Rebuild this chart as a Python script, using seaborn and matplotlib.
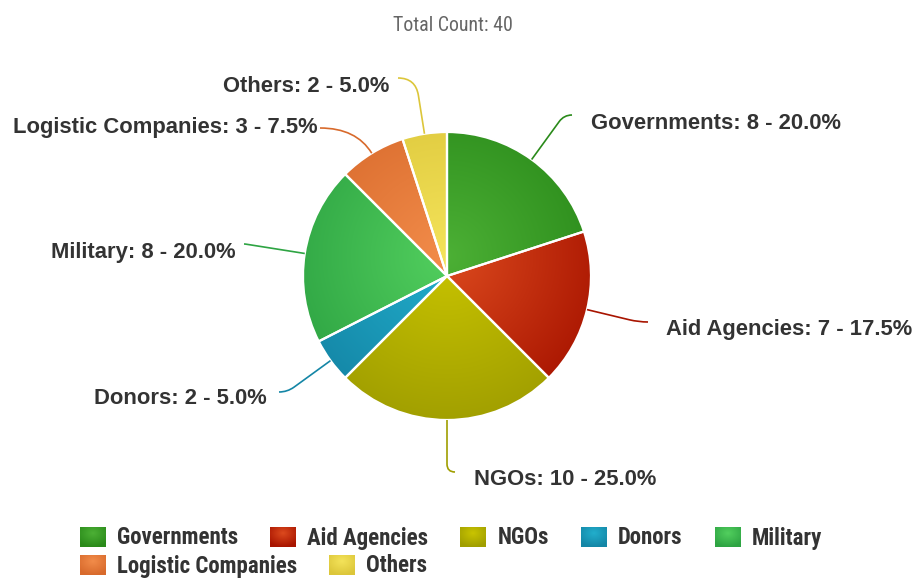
import numpy as np
import matplotlib
matplotlib.use("Agg")
import matplotlib.pyplot as plt
import seaborn as sns
from matplotlib import font_manager
from matplotlib.path import Path
from matplotlib.patches import PathPatch, Patch
from matplotlib.legend_handler import HandlerPatch
from matplotlib.image import BboxImage
from matplotlib.transforms import Bbox, TransformedBbox
from matplotlib.colors import to_rgb

# ---- data -------------------------------------------------------------
categories = ["Governments", "Aid Agencies", "NGOs", "Donors",
              "Military", "Logistic Companies", "Others"]
counts = [8, 7, 10, 2, 8, 3, 2]

# light (inner) and dark (outer) stop of each slice's radial gradient
inner_colors = ["#4cb035", "#dc4a1e", "#c9c400", "#22aecc",
                "#52cf5e", "#f28c4a", "#f4e35a"]
outer_colors = ["#2a8a1a", "#a81400", "#a09e00", "#1486a6",
                "#2ea443", "#d86a2c", "#dcc63a"]

title_text = "Total Count: 40"

# label layout in pixels: connector end point, text anchor (baseline), alignment
connector_ends = [(572, 115), (648, 322), (455, 472), (279, 392),
                  (244, 244), (320, 128), (398, 78)]
label_anchors = [(591, 129, "left"), (666, 335, "left"), (474, 485, "left"),
                 (267, 404, "right"), (236, 258, "right"),
                 (318, 133, "right"), (389, 92, "right")]

# ---- styling ----------------------------------------------------------
sns.set_theme(style="white")
plt.rcParams["font.family"] = ["Liberation Sans", "DejaVu Sans"]

# pick a narrow face for the title and legend
fonts = font_manager.fontManager.ttflist
names = {f.name for f in fonts}
narrow_kw = dict(family=["Roboto", "DejaVu Sans"])
for cand in ["Liberation Sans Narrow", "Roboto Condensed", "Open Sans Condensed"]:
    if cand in names:
        narrow_kw = dict(family=[cand, "DejaVu Sans"])
        break
else:
    if any(f.name == "DejaVu Sans" and f.stretch == "condensed" for f in fonts):
        narrow_kw = dict(family=["DejaVu Sans"], stretch="condensed")

W, H = 920, 578
fig = plt.figure(figsize=(W / 100, H / 100), dpi=100)
renderer = fig.canvas.get_renderer()


def fitted_size(text, target_px, **kw):
    probe = fig.text(0, 0, text, fontsize=20, **kw)
    w = probe.get_window_extent(renderer).width
    probe.remove()
    return 20 * target_px / w


ax = fig.add_axes([0, 0, 1, 1])

center = (447, 276)
R = 144
total = sum(counts)

wedges, _ = ax.pie(counts, colors=inner_colors, startangle=-90, counterclock=True,
                   center=center, radius=R, frame=True,
                   wedgeprops=dict(edgecolor="white", linewidth=1.6))
ax.set_aspect("auto")

# radial shading of each slice, clipped to its wedge
n = 400
xs = np.linspace(center[0] - R, center[0] + R, n)
ys = np.linspace(center[1] - R, center[1] + R, n)
XX, YY = np.meshgrid(xs, ys)
gcx, gcy, gr = center[0], center[1] - 20, R * 1.2
tt = np.clip(np.hypot(XX - gcx, YY - gcy) / gr, 0, 1)[..., None]
for w, ci, co in zip(wedges, inner_colors, outer_colors):
    a, b = np.array(to_rgb(ci)), np.array(to_rgb(co))
    rgb = a * (1 - tt) + b * tt
    im = ax.imshow(rgb, extent=(center[0] - R, center[0] + R, center[1] + R, center[1] - R),
                   origin="upper", interpolation="bilinear", zorder=2)
    im.set_clip_path(w)
    w.set_facecolor("none")
    w.set_zorder(3)
ax.set_xlim(0, W)
ax.set_ylim(H, 0)
ax.axis("off")

# soft connectors and data labels
for w, cat, cnt, end, (tx, ty, ha), col in zip(wedges, categories, counts,
                                               connector_ends, label_anchors, outer_colors):
    ang = np.deg2rad((w.theta1 + w.theta2) / 2)
    d = np.array([np.cos(ang), np.sin(ang)])
    p0 = np.array(center) + R * d
    p2 = np.array(end, dtype=float)
    t = (p2[1] - p0[1]) / d[1] if abs(d[1]) > 1e-6 else abs(p2[0] - p0[0])
    t = max(t, 0.0)
    corner = p0 + t * d
    r = min(np.hypot(*(p2 - corner)), t)
    a = corner - r * d
    path = Path([p0, a, corner, p2],
                [Path.MOVETO, Path.LINETO, Path.CURVE3, Path.CURVE3])
    ax.add_patch(PathPatch(path, facecolor="none", edgecolor=col, lw=1.2, zorder=4))
    ax.text(tx, ty, f"{cat}: {cnt} - {100 * cnt / total:.1f}%", ha=ha, va="baseline",
            fontsize=15.8, fontweight="bold", color="#333333", zorder=5)

title_fs = fitted_size(title_text, 120, **narrow_kw)
ax.text(453, 31, title_text, ha="center", va="baseline", fontsize=title_fs,
        color="#666666", **narrow_kw)


# ---- legend with gradient squares ----------------------------------------
def square_gradient(ci, co, size=48):
    u = np.linspace(0, 1, size)
    X, Y = np.meshgrid(u, u)
    t = np.clip(np.hypot(X - 0.5, Y - 0.3) / 0.7, 0, 1)[..., None]
    return np.array(to_rgb(ci)) * (1 - t) + np.array(to_rgb(co)) * t


class GradientSquareHandler(HandlerPatch):
    def create_artists(self, legend, orig_handle, xdescent, ydescent,
                       width, height, fontsize, trans):
        bb = Bbox.from_bounds(-xdescent, -ydescent, width, height)
        img = BboxImage(TransformedBbox(bb, trans), interpolation="bilinear")
        img.set_data(square_gradient(*orig_handle.grad))
        return [img]


handles = []
for cat, ci, co in zip(categories, inner_colors, outer_colors):
    h = Patch(facecolor=ci, label=cat)
    h.grad = (ci, co)
    handles.append(h)

leg_fs = fitted_size("Governments", 121, weight="bold", **narrow_kw)
em = leg_fs * 100 / 72
leg_prop = dict(weight="bold", size=leg_fs, **narrow_kw)
leg_kw = dict(frameon=False, borderpad=0, borderaxespad=0,
              handlelength=26 / em, handleheight=22 / em,
              handletextpad=11 / em, columnspacing=32 / em,
              labelcolor="#333333", prop=leg_prop,
              handler_map={Patch: GradientSquareHandler()}, loc="center left")

leg1 = fig.legend(handles[:5], categories[:5], ncol=5,
                  bbox_to_anchor=(80 / W, 1 - 538 / H), **leg_kw)
leg2 = fig.legend(handles[5:], categories[5:], ncol=2,
                  bbox_to_anchor=(80 / W, 1 - 566 / H), **leg_kw)

fig.savefig("out.png", dpi=100)
